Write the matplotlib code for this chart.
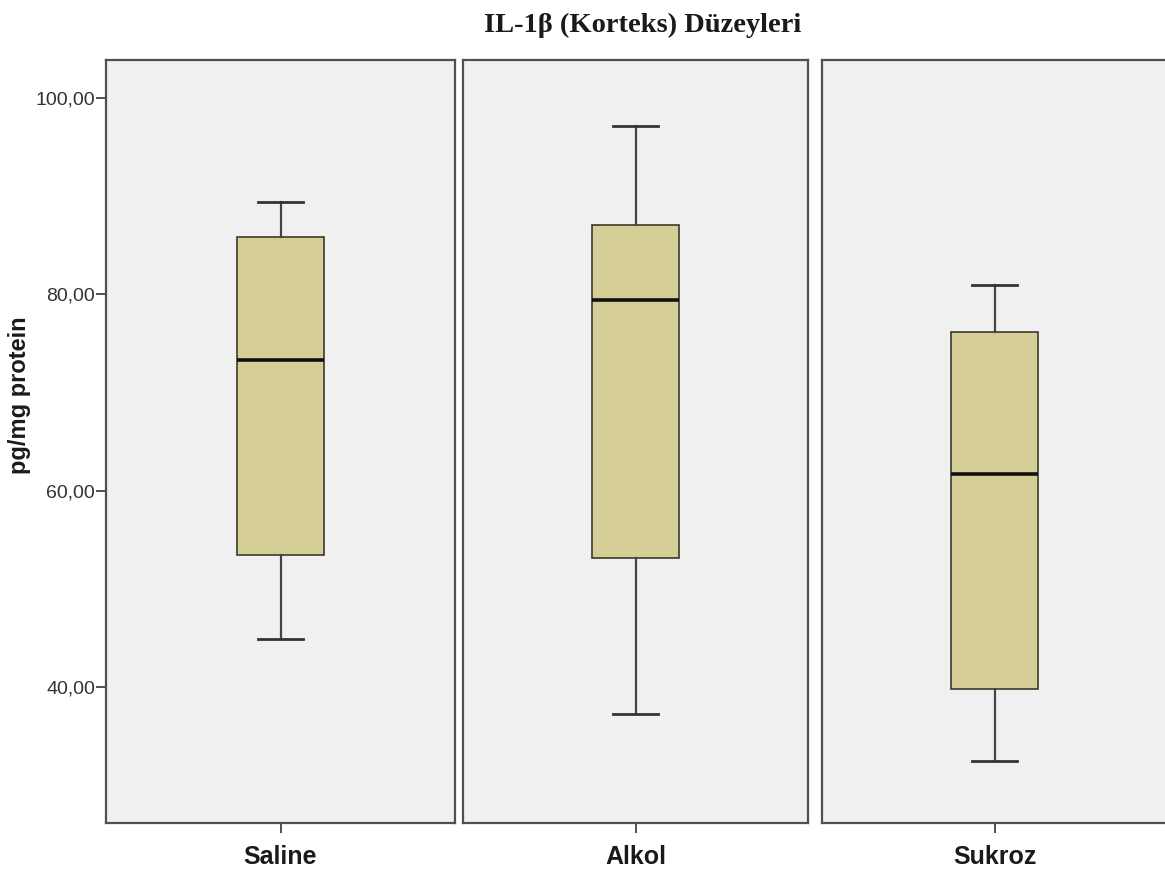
import matplotlib
matplotlib.use('Agg')
import matplotlib.pyplot as plt

# Gruplar ve kutu grafiği istatistikleri (pg/mg protein)
groups = ['Saline', 'Alkol', 'Sukroz']
whislo = [44.9, 37.3, 32.5]
q1 = [53.4, 53.1, 39.8]
med = [73.3, 79.4, 61.7]
q3 = [85.8, 87.1, 76.2]
whishi = [89.4, 97.1, 80.95]

yticks = [40, 60, 80, 100]
ytick_labels = ['40,00', '60,00', '80,00', '100,00']

W, H = 1165, 875
fig = plt.figure(figsize=(W / 100, H / 100), dpi=100)

# panel sınırları (piksel)
panels = [(106, 455), (463, 808), (822, 1167)]
top_px, bot_px = 60, 823

frame_col = '#505050'
for i, (x0, x1) in enumerate(panels):
    ax = fig.add_axes([x0 / W, 1 - bot_px / H, (x1 - x0) / W, (bot_px - top_px) / H])
    ax.set_facecolor('#f0f0f0')
    stats = [dict(whislo=whislo[i], q1=q1[i], med=med[i], q3=q3[i], whishi=whishi[i], fliers=[])]
    ax.bxp(stats, positions=[1], widths=0.252, capwidths=0.13, patch_artist=True,
           boxprops=dict(facecolor='#d5cf97', edgecolor='#3b3a2c', linewidth=1.2),
           medianprops=dict(color='#111111', linewidth=2.6),
           whiskerprops=dict(color='#444444', linewidth=1.6),
           capprops=dict(color='#333333', linewidth=2.0))
    ax.set_xlim(0.5, 1.5)
    ax.set_ylim(26.15, 103.87)
    for s in ax.spines.values():
        s.set_color(frame_col)
        s.set_linewidth(1.6)
    ax.set_xticks([1])
    ax.set_xticklabels([groups[i]], fontsize=18, fontweight='bold',
                       family='Liberation Sans', color='#1a1a1a')
    ax.tick_params(axis='x', length=7, width=1.4, color=frame_col, pad=9)
    if i == 0:
        ax.set_yticks(yticks)
        ax.set_yticklabels(ytick_labels, fontsize=14, family='Liberation Sans', color='#333333')
        ax.tick_params(axis='y', length=7, width=1.4, color=frame_col, pad=1)
        ax.set_ylabel('pg/mg protein', fontsize=17, fontweight='bold',
                      family='Liberation Sans', color='#1a1a1a')
        ax.yaxis.set_label_coords(-0.215, 0.561)
    else:
        ax.set_yticks([])

fig.text(643 / W, 1 - 32 / H, 'IL-1β (Korteks) Düzeyleri', ha='center', va='baseline',
         fontsize=20.5, fontweight='bold', family='Liberation Serif', color='#1a1a1a')

fig.savefig('out.png', dpi=100, facecolor='white')
